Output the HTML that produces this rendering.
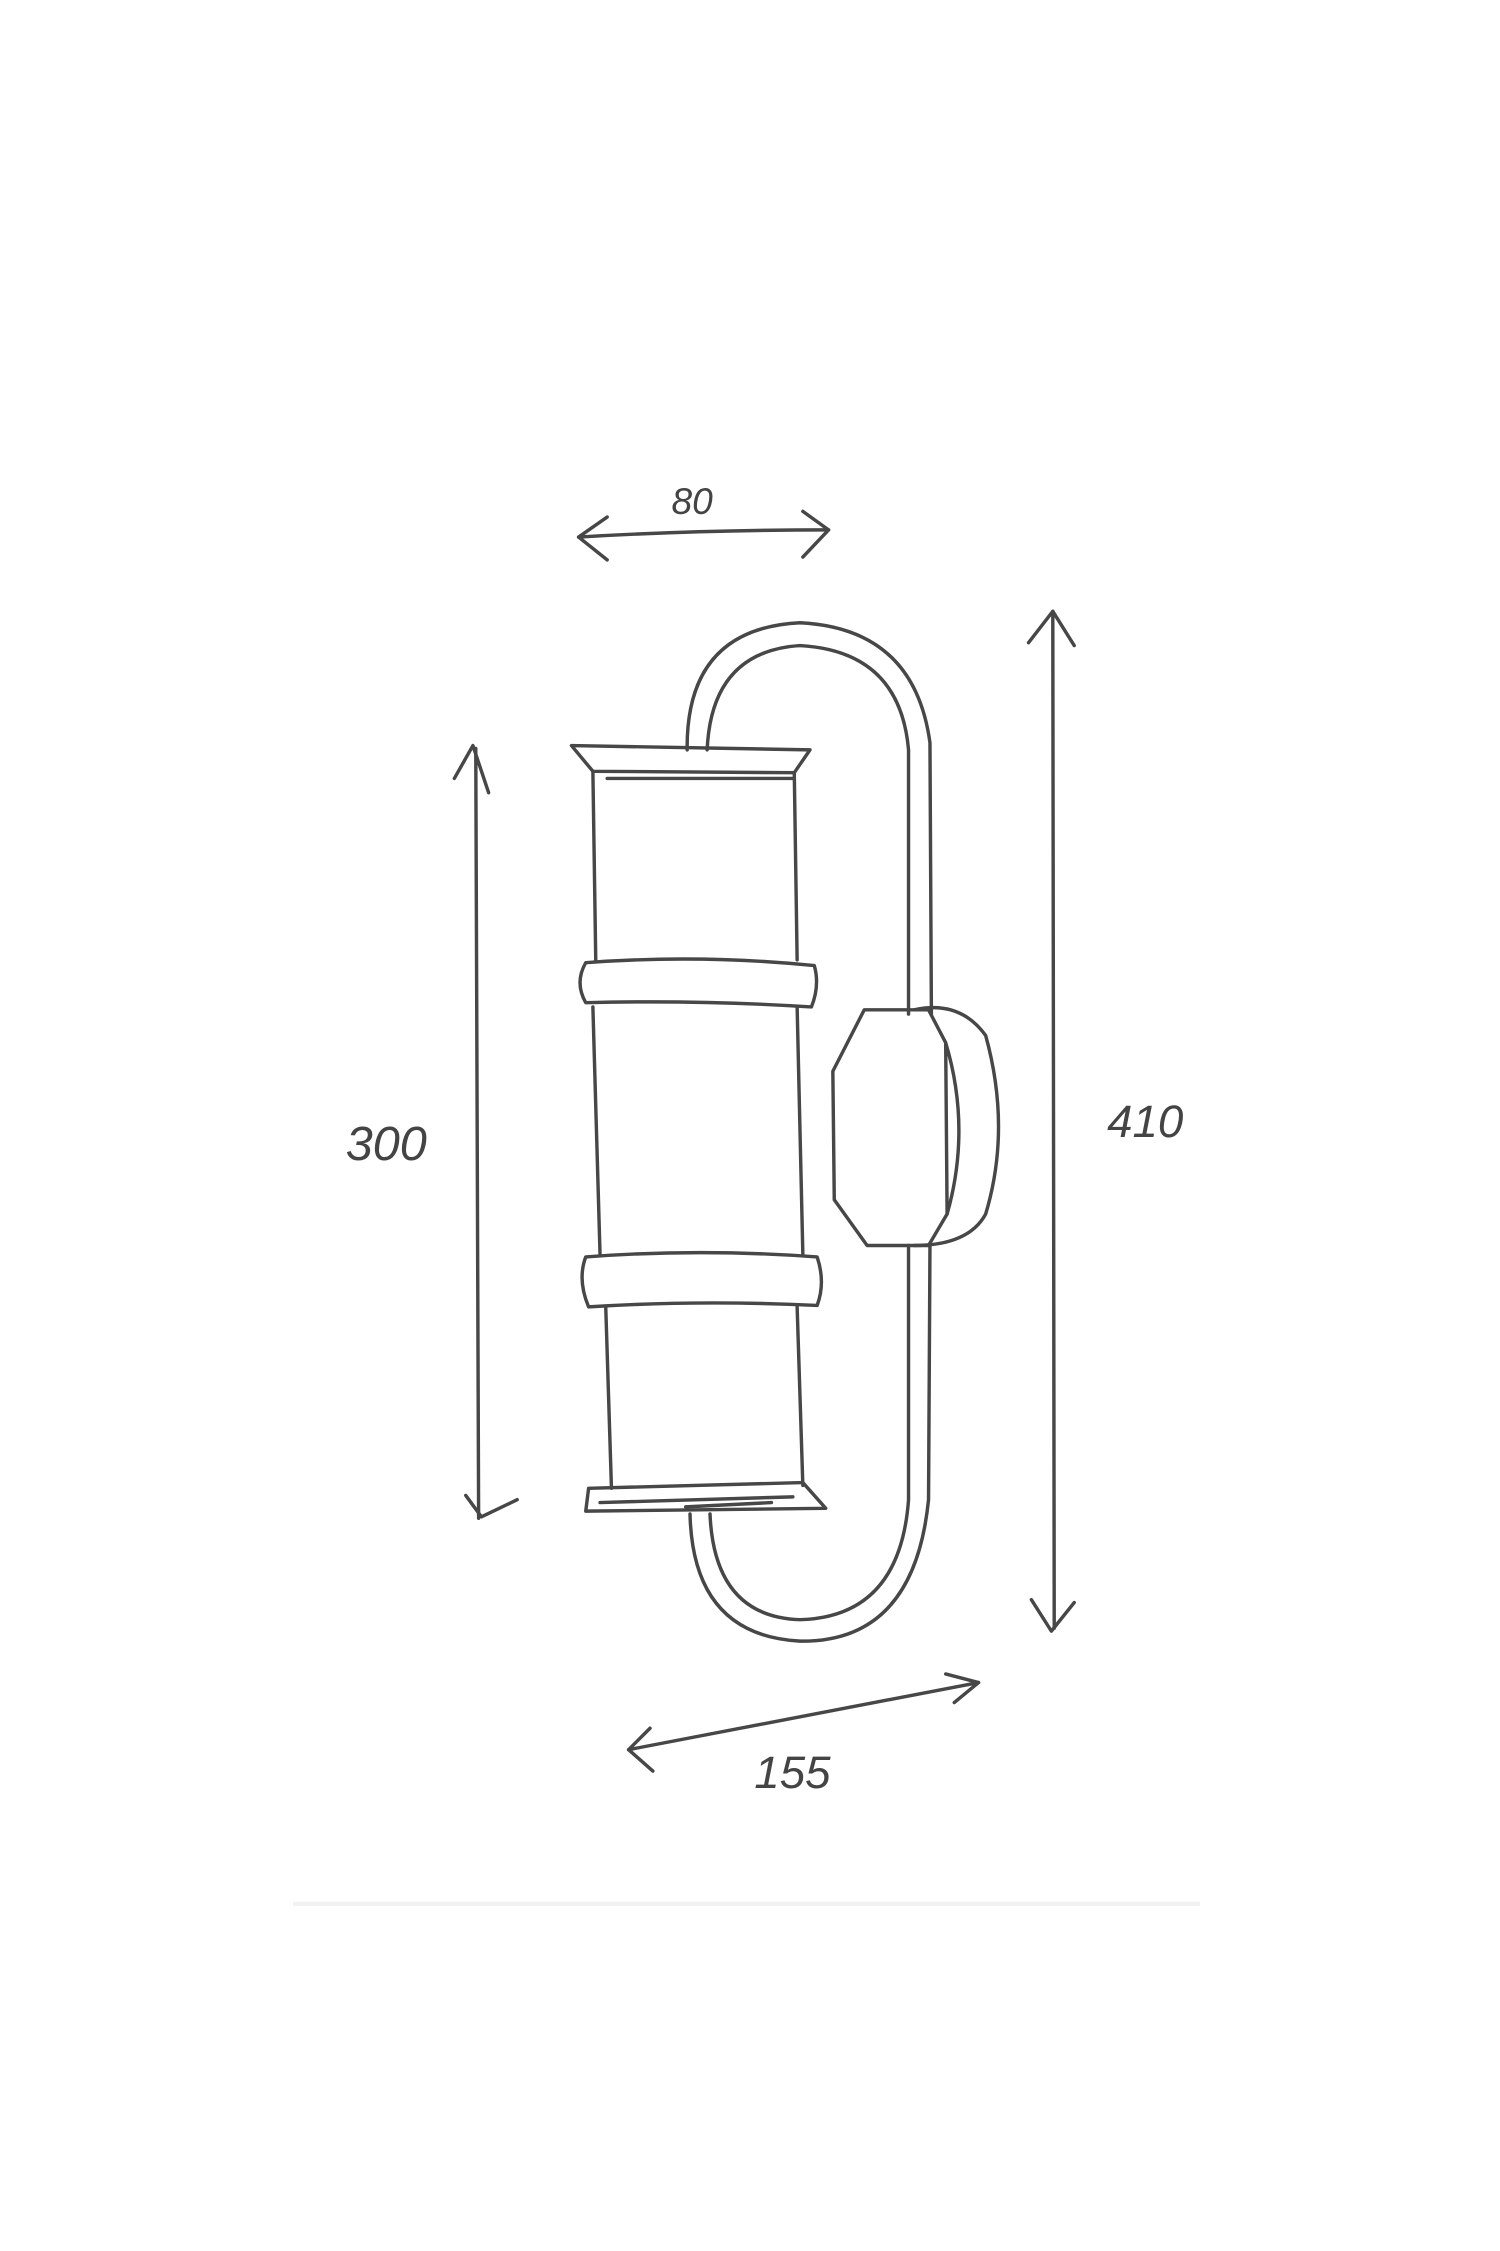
<!DOCTYPE html>
<html><head><meta charset="utf-8"><style>
html,body{margin:0;padding:0;background:#fff}
svg{display:block}
text{font-family:"Liberation Sans",sans-serif;fill:#444;font-style:italic}
</style></head><body>
<svg width="1500" height="2251" viewBox="0 0 1050 1576" xmlns="http://www.w3.org/2000/svg">
<rect width="1050" height="1576" fill="#fff"/>
<line x1="205" y1="1333" x2="840" y2="1333" stroke="#f2f2f2" stroke-width="3"/>
<g fill="none" stroke="#474747" stroke-width="2.4" stroke-linecap="round" stroke-linejoin="round">
<!-- 80 arrow -->
<path d="M405 376 Q490 371 580 371"/><path d="M425 362 L405 376 L425 392"/><path d="M562 358 L580 371 L562 390"/>
<!-- 300 arrow -->
<path d="M333 524 L335 1063"/><path d="M318 545 L331 522 L342 555"/><path d="M326 1047 L337 1062 L362 1050"/>
<!-- 410 arrow -->
<path d="M737 428 L738 1140"/><path d="M720 450 L737 428 L752 452"/><path d="M722 1120 L736 1142 L752 1122"/>
<!-- 155 arrow -->
<path d="M440 1225 L685 1178"/><path d="M455 1210 L440 1225 L457 1240"/><path d="M662 1172 L685 1178 L668 1192"/>
<!-- arm outer -->
<path d="M481 525 Q480 440 560 436 Q640 440 651 520 L652 710"/>
<path d="M651 872 L650 1050 Q640 1150 560 1149 Q485 1145 483 1060"/>
<!-- arm inner -->
<path d="M495 525 Q498 456 560 452 Q630 456 636 525 L636 710"/>
<path d="M636 872 L636 1050 Q630 1132 560 1134 Q500 1132 497 1060"/>
<!-- top cap -->
<path d="M400 522 L567 525 L556 541 L415 540 Z"/>
<!-- body 1 -->
<path d="M415 540 L417 672 M556 541 L558 672 M425 545 L555 545"/>
<!-- ring 1 -->
<path d="M410 674 Q490 668 570 676 Q574 690 568 705 Q490 700 410 702 Q402 688 410 674 Z"/>
<!-- body 2 -->
<path d="M415 705 L420 878 M558 705 L562 878"/>
<!-- ring 2 -->
<path d="M410 880 Q490 874 572 880 Q578 898 572 914 Q490 910 412 915 Q404 896 410 880 Z"/>
<!-- body 3 -->
<path d="M424 915 L428 1042 M558 915 L562 1040"/>
<!-- bottom cap -->
<path d="M412 1042 L562 1038 L578 1056 L410 1058 Z"/>
<path d="M420 1052 L555 1048 M480 1055 L540 1052"/>
<!-- wall plate -->
<path d="M605 707 L650 707 L662 730 L663 850 L650 872 L607 872 L584 840 L583 750 Z"/>
<path d="M640 707 Q672 700 690 725 Q708 790 690 850 Q678 872 640 872"/>
<path d="M662 730 Q680 790 663 850"/>
</g>
<text x="470" y="360" font-size="26">80</text>
<text x="242" y="812" font-size="34">300</text>
<text x="775" y="796" font-size="32">410</text>
<text x="528" y="1252" font-size="32">155</text>
</svg>
</body></html>
